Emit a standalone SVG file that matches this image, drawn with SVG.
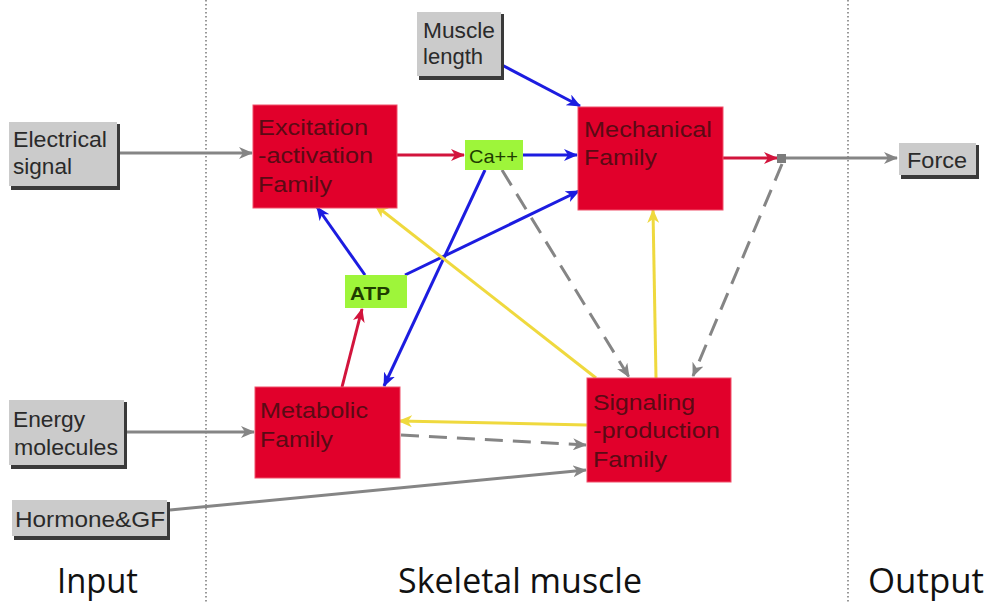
<svg xmlns="http://www.w3.org/2000/svg" width="987" height="603" viewBox="0 0 987 603">
<defs>
<style>
.gbox{fill:#cbcbcb;}
.gsh{fill:#3a3a3a;}
.gt{font-family:"Liberation Sans",Arial,sans-serif;font-size:22px;fill:#2a2a2a;}
.rbox{fill:#e1002b;stroke:#f0506a;stroke-width:1;}
.rt{font-family:"Liberation Sans",Arial,sans-serif;font-size:22px;fill:#5a0a14;}
.lbox{fill:#9ef53a;}
.lt{font-family:"Liberation Sans",Arial,sans-serif;font-size:19px;fill:#1f3d00;}
.big{font-family:"Open Sans",sans-serif;font-size:34px;fill:#111;}
.sep{stroke:#555;stroke-width:1.2;stroke-dasharray:1.5 2.5;fill:none;}
.c{fill:none;stroke-width:3;}
.gray{stroke:#858585;}
.red{stroke:#d2143c;}
.blue{stroke:#1c1ce0;}
.yel{stroke:#efd93e;}
.dash{stroke-dasharray:18 10;}
</style>
<marker id="ag" viewBox="0 0 14 12" refX="13" refY="6" markerWidth="14" markerHeight="12" markerUnits="userSpaceOnUse" orient="auto"><path d="M0,0 L14,6 L0,12 L4,6 z" fill="#858585"/></marker>
<marker id="ar" viewBox="0 0 14 12" refX="13" refY="6" markerWidth="14" markerHeight="12" markerUnits="userSpaceOnUse" orient="auto"><path d="M0,0 L14,6 L0,12 L4,6 z" fill="#d2143c"/></marker>
<marker id="ab" viewBox="0 0 14 12" refX="13" refY="6" markerWidth="14" markerHeight="12" markerUnits="userSpaceOnUse" orient="auto"><path d="M0,0 L14,6 L0,12 L4,6 z" fill="#1c1ce0"/></marker>
<marker id="ay" viewBox="0 0 14 12" refX="13" refY="6" markerWidth="14" markerHeight="12" markerUnits="userSpaceOnUse" orient="auto"><path d="M0,0 L14,6 L0,12 L4,6 z" fill="#efd93e"/></marker>
</defs>
<rect width="987" height="603" fill="#ffffff"/>
<line class="sep" x1="206" y1="0" x2="206" y2="603"/>
<line class="sep" x1="848" y1="0" x2="848" y2="603"/>

<g id="connectors">
<line class="c gray" x1="120" y1="153" x2="252" y2="153" marker-end="url(#ag)"/>
<line class="c red" x1="397" y1="155" x2="464" y2="155" marker-end="url(#ar)"/>
<line class="c blue" x1="523" y1="155" x2="577" y2="155" marker-end="url(#ab)"/>
<line class="c blue" x1="500" y1="64" x2="580" y2="106" marker-end="url(#ab)"/>
<line class="c red" x1="723" y1="158" x2="777" y2="158" marker-end="url(#ar)"/>
<line class="c gray" x1="786" y1="158" x2="897" y2="158" marker-end="url(#ag)"/>
<line class="c blue" x1="485" y1="170" x2="384" y2="386" marker-end="url(#ab)"/>
<line class="c blue" x1="365" y1="275" x2="317" y2="207" marker-end="url(#ab)"/>
<line class="c blue" x1="405" y1="275" x2="579" y2="191" marker-end="url(#ab)"/>
<line class="c red" x1="342" y1="387" x2="362" y2="309" marker-end="url(#ar)"/>
<line class="c yel" x1="596" y1="378" x2="375" y2="205" marker-end="url(#ay)"/>
<line class="c yel" x1="656" y1="378" x2="653" y2="210" marker-end="url(#ay)"/>
<line class="c gray dash" x1="502" y1="170" x2="629" y2="377" marker-end="url(#ag)"/>
<line class="c gray dash" x1="782" y1="164" x2="693" y2="376" marker-end="url(#ag)"/>
<line class="c yel" x1="587" y1="425" x2="399" y2="421" marker-end="url(#ay)"/>
<line class="c gray dash" x1="401" y1="435" x2="586" y2="445" marker-end="url(#ag)"/>
<line class="c gray" x1="127" y1="432" x2="254" y2="432" marker-end="url(#ag)"/>
<line class="c gray" x1="170" y1="510" x2="586" y2="470" marker-end="url(#ag)"/>
</g>

<g id="junction"><rect x="777" y="154" width="9" height="9" fill="#7c7c7c"/></g>

<g id="electrical">
<rect class="gsh" x="11" y="124" width="109" height="66"/>
<rect class="gbox" x="9" y="122" width="108" height="64"/>
<text class="gt" x="13" y="147" textLength="94" lengthAdjust="spacingAndGlyphs">Electrical</text>
<text class="gt" x="13" y="174" textLength="59" lengthAdjust="spacingAndGlyphs">signal</text>
</g>
<g id="muscle-length">
<rect class="gsh" x="419" y="14" width="85" height="66"/>
<rect class="gbox" x="417" y="12" width="84" height="64"/>
<text class="gt" x="423" y="38" textLength="72" lengthAdjust="spacingAndGlyphs">Muscle</text>
<text class="gt" x="423" y="64" textLength="60" lengthAdjust="spacingAndGlyphs">length</text>
</g>
<g id="force">
<rect class="gsh" x="901" y="145" width="78" height="34"/>
<rect class="gbox" x="899" y="143" width="77" height="32"/>
<text class="gt" x="907" y="168" textLength="60" lengthAdjust="spacingAndGlyphs">Force</text>
</g>
<g id="energy">
<rect class="gsh" x="11" y="402" width="116" height="67"/>
<rect class="gbox" x="9" y="400" width="115" height="65"/>
<text class="gt" x="13" y="427" textLength="72" lengthAdjust="spacingAndGlyphs">Energy</text>
<text class="gt" x="14" y="455" textLength="104" lengthAdjust="spacingAndGlyphs">molecules</text>
</g>
<g id="hormone">
<rect class="gsh" x="14" y="502" width="156" height="38"/>
<rect class="gbox" x="12" y="500" width="155" height="36"/>
<text class="gt" x="15" y="527" textLength="150" lengthAdjust="spacingAndGlyphs">Hormone&amp;GF</text>
</g>

<g id="excitation">
<rect class="rbox" x="253" y="105" width="144" height="103"/>
<text class="rt" x="258" y="135" textLength="110" lengthAdjust="spacingAndGlyphs">Excitation</text>
<text class="rt" x="258" y="163" textLength="115" lengthAdjust="spacingAndGlyphs">-activation</text>
<text class="rt" x="258" y="192" textLength="74" lengthAdjust="spacingAndGlyphs">Family</text>
</g>
<g id="mechanical">
<rect class="rbox" x="578" y="107" width="145" height="103"/>
<text class="rt" x="584" y="137" textLength="128" lengthAdjust="spacingAndGlyphs">Mechanical</text>
<text class="rt" x="584" y="165" textLength="73" lengthAdjust="spacingAndGlyphs">Family</text>
</g>
<g id="metabolic">
<rect class="rbox" x="255" y="387" width="145" height="91"/>
<text class="rt" x="260" y="418" textLength="108" lengthAdjust="spacingAndGlyphs">Metabolic</text>
<text class="rt" x="260" y="447" textLength="73" lengthAdjust="spacingAndGlyphs">Family</text>
</g>
<g id="signaling">
<rect class="rbox" x="587" y="378" width="144" height="104"/>
<text class="rt" x="593" y="410" textLength="102" lengthAdjust="spacingAndGlyphs">Signaling</text>
<text class="rt" x="593" y="438" textLength="127" lengthAdjust="spacingAndGlyphs">-production</text>
<text class="rt" x="593" y="467" textLength="74" lengthAdjust="spacingAndGlyphs">Family</text>
</g>

<g id="ca">
<rect class="lbox" x="465" y="140" width="58" height="30"/>
<text class="lt" x="469" y="163" textLength="49" lengthAdjust="spacingAndGlyphs">Ca++</text>
</g>
<g id="atp">
<rect class="lbox" x="345" y="275" width="62" height="33"/>
<text class="lt" x="350" y="300" font-weight="bold" textLength="40" lengthAdjust="spacingAndGlyphs">ATP</text>
</g>

<g id="labels">
<text class="big" x="57" y="593" textLength="81" lengthAdjust="spacingAndGlyphs">Input</text>
<text class="big" x="398" y="593" textLength="244" lengthAdjust="spacingAndGlyphs">Skeletal muscle</text>
<text class="big" x="868" y="593" textLength="116" lengthAdjust="spacingAndGlyphs">Output</text>
</g>
</svg>
